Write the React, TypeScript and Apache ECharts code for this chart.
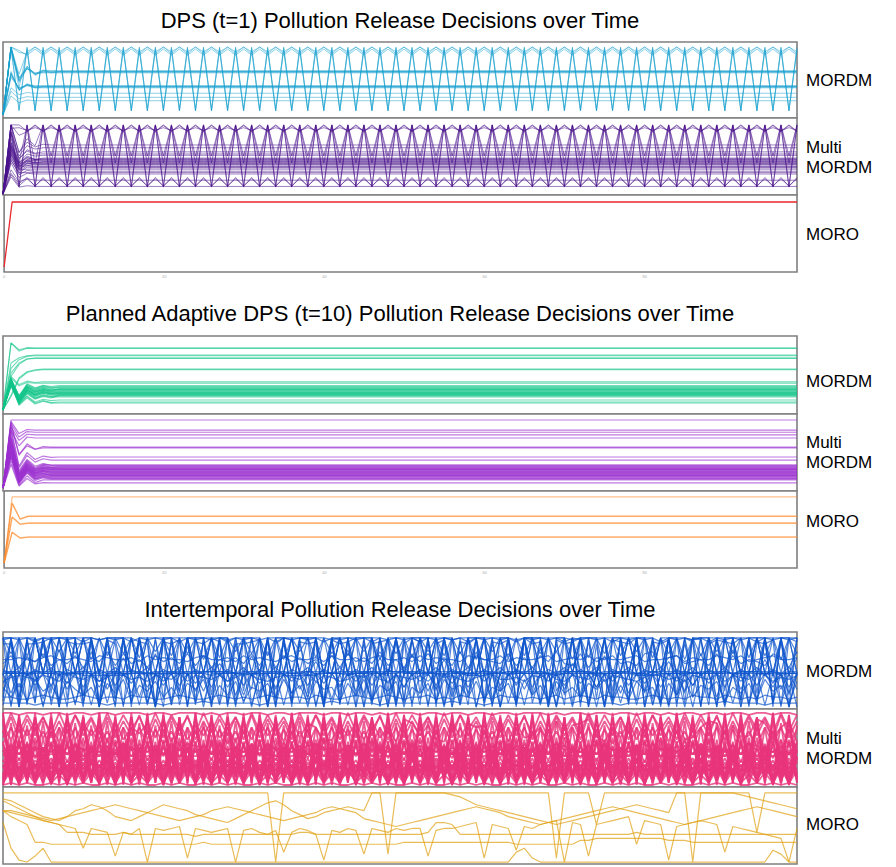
import React, { useEffect, useRef } from "react";
import * as echarts from "echarts";

// ---------- time axis ----------
const timeSteps: number[] = [...Array(100).keys()]; // t = 0..99

// ---------- panel layout ----------
const panelTops = [42, 118, 195, 336, 414, 491, 632, 709, 787];
const panelHeights = [76, 77, 77, 78, 77, 77, 77, 78, 77];
const panelYMin = [-4.4, -1.4, -7.7, -6, -4.4, -7.6, -1, -0.97, -1];
const panelYMax = [107.4, 110, 110.8, 110.4, 108.8, 109, 38, 36.9, 38];
const panelNames = ["MORDM", "Multi\nMORDM", "MORO"];
const labelCenters = [80, 157, 234, 381, 452, 521, 671, 748.5, 824];
const sectionTitles = [
  "DPS (t=1) Pollution Release Decisions over Time",
  "Planned Adaptive DPS (t=10) Pollution Release Decisions over Time",
  "Intertemporal Pollution Release Decisions over Time",
];
const titleCenters = [20, 313, 609];

// ---------- DPS (t=1): transient head + steady cycle ----------
const dpsMordmHeads = [
  [0], [0], [0, 100, 92], [0, 100, 95], [0, 100, 50, 70, 58, 66, 62],
  [0, 98, 52, 72, 60, 65], [0, 100, 48, 68, 60, 63], [0, 95, 55, 68, 62],
  [0, 100, 54, 71, 61, 66], [0, 60, 38, 45, 41], [0, 55, 40, 44],
  [0, 62, 36, 44, 40], [0, 58, 39, 43], [0, 64, 37, 46, 42], [0, 40, 30, 33],
  [0, 35, 24, 27], [0, 28, 18, 22], [0, 100, 40], [0, 100, 60],
  [0, 97, 51, 69, 60, 64], [0, 61, 37, 45, 41],
];
const dpsMordmCycles = [
  [6, 100], [8, 98], [100, 90], [97, 88], [64], [65], [63], [62], [64.5],
  [42], [43], [41], [40], [42.5], [32], [26], [21], [6, 95], [100, 93],
  [63.5], [41.5],
];

const dpsMultiHeads = [
  [0], [0, 90], [0], [0, 100], [0, 100, 85], [0, 95], [0, 30, 15], [0, 28],
  [0, 100, 60, 75, 68, 72], [0, 90, 55, 70, 65], [0, 85, 50, 64, 59],
  [0, 80, 45, 58, 55], [0, 75, 42, 55, 50], [0, 70, 40, 50], [0, 65, 38, 48],
  [0, 60, 36, 45], [0, 62, 35, 44], [0, 58, 33, 41], [0, 55, 30, 39],
  [0, 50, 28, 34], [0, 45, 24, 30], [0, 35, 18, 22], [0, 25, 10, 12],
  [0, 68, 41, 48, 45], [0, 72, 44, 52], [0, 66, 40, 47], [0, 100, 60, 80, 70],
  [0, 52, 35], [0, 48, 31], [0, 74, 46, 53, 50], [0, 69, 43, 49], [0, 63, 39, 45],
  [0, 57, 37, 42], [0, 88, 52, 62, 58],
];
const dpsMultiCycles = [
  [11, 100], [10, 98], [45, 100], [100, 91], [99, 90], [96, 92],
  [11, 24], [12, 22], [71], [67], [61], [56], [52], [49], [46], [44], [42],
  [40], [38], [33], [29], [20], [11], [47], [50], [45], [55, 100], [36], [31],
  [51], [48], [43], [39], [58],
];

const dpsMoroHeads = [[0]];
const dpsMoroCycles = [[100]];

// ---------- Planned adaptive DPS (t=10) ----------
const adaptMordmHeads = [
  [0, 100, 90, 93], [0, 100, 88, 92], [0, 70, 78, 81], [0, 62, 75, 80],
  [0, 55, 70, 76], [0, 50, 68, 76], [0, 22, 48, 57, 60], [0, 20, 46, 56, 59],
  [0, 50, 38, 43, 41], [0, 48, 36, 41], [0, 46, 14, 30, 22, 27, 24],
  [0, 44, 16, 32, 24, 29, 26], [0, 42, 12, 28, 20, 25, 22],
  [0, 40, 15, 34, 26, 31, 28], [0, 38, 13, 30, 22, 26],
  [0, 45, 17, 35, 28, 33, 30], [0, 43, 18, 36, 30, 34, 32],
  [0, 47, 20, 37, 31, 35, 33], [0, 41, 11, 27, 18, 23, 20],
  [0, 39, 10, 25, 17, 21, 19], [0, 44, 19, 38, 32, 36, 34],
  [0, 46, 21, 39, 33, 37, 35], [0, 36, 9, 24, 16, 20, 18],
  [0, 40, 8, 20, 10, 14, 11], [0, 38, 7, 18, 9, 13, 10],
  [0, 42, 9, 21, 12, 16, 14], [0, 35, 14, 29, 23, 27, 25],
  [0, 37, 12, 31, 25, 29, 27], [0, 45, 22, 34, 29, 32, 30],
  [0, 41, 16, 33, 27, 30, 28], [0, 43, 15, 31, 23, 28, 25],
  [0, 39, 13, 28, 21, 25, 23], [0, 47, 18, 35, 27, 31, 29],
  [0, 44, 11, 26, 18, 22, 20],
];
const adaptMordmCycles = [
  [92.5], [92], [82], [81], [77.6], [77], [61], [60], [42], [40], [25], [27],
  [23], [29], [24], [31], [33], [34], [21], [19.5], [35], [36.5], [22], [12],
  [10.5], [15], [26], [28], [30], [32], [26.5], [24.5], [30.5], [22.5],
];

const adaptMultiHeads = [
  [0, 100], [0, 98, 80, 86], [0, 95, 75, 83], [0, 90, 70, 79], [0, 85, 62, 75],
  [0, 96, 48, 65, 57, 61], [0, 92, 50, 62, 57], [0, 88, 32, 52, 42, 47, 45],
  [0, 84, 30, 48, 38, 43], [0, 80, 20, 40, 28, 34, 30], [0, 70, 18, 35, 25, 30],
  [0, 65, 15, 32, 22, 27], [0, 60, 12, 30, 20, 24], [0, 55, 10, 28, 18, 22],
  [0, 75, 22, 38, 28, 33], [0, 68, 16, 34, 24, 29], [0, 58, 14, 31, 21, 26],
  [0, 52, 9, 26, 15, 19], [0, 48, 8, 24, 13, 17], [0, 62, 20, 36, 27, 31],
  [0, 72, 24, 40, 30, 35], [0, 45, 6, 22, 11, 15], [0, 50, 10, 27, 17, 21],
  [0, 57, 13, 29, 19, 24], [0, 66, 19, 33, 23, 28], [0, 40, 4, 18, 8, 12],
  [0, 35, 3, 14, 6, 8], [0, 74, 26, 42, 32, 36], [0, 54, 12, 28, 18, 22],
  [0, 63, 17, 31, 22, 26], [0, 46, 7, 25, 14, 18], [0, 69, 21, 37, 26, 31],
  [0, 61, 16, 30, 21, 25], [0, 53, 11, 27, 16, 20], [0, 67, 18, 34, 25, 29],
  [0, 49, 9, 23, 13, 16],
];
const adaptMultiCycles = [
  [100], [85], [82], [78], [73.5], [60], [59], [45.6], [41], [31], [28], [25],
  [22], [20], [32], [27], [23], [17], [15], [30], [34], [13], [19], [21], [26],
  [12], [7.4], [33], [18], [24], [16], [29], [23.5], [18.5], [27.5], [14],
];

const adaptMoroHeads = [[0, 100], [0, 91, 67], [0, 90, 66], [0, 70, 59], [0, 69, 58.5], [0, 47, 38], [0, 46, 37.5]];
const adaptMoroCycles = [[100], [71], [70.5], [60.6], [60], [39.4], [39]];

// ---------- Intertemporal: one base-36 level (0..z) per time step ----------
const interMordmLines = [
  "zhzhzhzhzh zhzhyhzhzh zhzgzhzhyh zhzhzhzizh zhzhzhzhzh yhzhzhzhzg zhzhzhzhzh zhyhzhzhzh zhzhzhzgzh zhzhzhzhzh",
  "h1h2h1h0h1 h1h2h1h1h0 h1h1h2h1h1 h0h1h1h2h1 h1h1h0h1h1 h2h1h1h1h0 h1h2h1h1h1 h0h1h1h2h1 h1h1h0h1h1 h2h1h1h1h0",
  "5z2y8zh3zi 0zhz4yhzh2 zh8z1zhzz3 h9zh0zyh4z hz2zh5zi0z 3yhz8zh1zh z4hzyzh2z8 hz0zhy5zh3 z1hzh7zyh0 zh4zhz2zh9",
  "zzzzyzzzzz zzyzzzzhzz zzzzzzzzyz zzhzzzzzzz zyzzzzzzhz zzzzzzyzzz zzzzhzzzzz zyzzzzzzzz zhzzzzyzzz zzzzzzzzzz",
  "hhhhihhghh hhihhhhhgh hhhhhhihhh ghhhhhhhih hhhghhhhhh ihhhhghhhh hhhihhhhhg hhhhhhhihh hghhhhhhhh ihhhhhghhh",
  "2222122223 2221222222 1222232222 2212222222 2322222122 2222223222 1222222222 2232222122 2222222222 3222212222",
  "a5c3e8b4d9 6a2c7e3b8d 5a4c9e2b6d 3a8c5e7b2d 9a3c6e4b8d 2a7c3e9b5d 4a8c2e6b3d 7a5c9e3b4d 8a2c6e5b9d 3a7c4e8b2d",
  "mqkpnrlomq kpnslrmokq npmrlqkonp mrlskqnpmo lqkrnpmslo kqnrmplskq onmrlpkqns mlrkpoqmnl rskpqmnolr kqmonlrpks",
  "z0z1zhz0zz 2z0h1z0z2h z1z0zhz2z0 z1hz0z2zz0 hz1z0z2hz1 z0zhz1z2z0 hz0z1zz2h0 z1z0hz2z1z 0hz1z2z0zh 1z0z2zhz0z",
  "hihghzhigh hzhgihzhhi ghhzihghhz ihghihzhgh ihzghihhgz hihgzhihgh zhighhzihg hzihghhizh gihzhgihhz ihghzhighh",
  "8h5hbh3h9h 6hah4h7h2h bh5h8h3hah 6h4h9h7h5h 2hbh8h3h6h ah4h9h5h7h 3h8hbh6h2h 9h5hah4h7h 8h3h6hbh5h 2h9h4hah7h",
  "zrzqzpzszr zozqzrzpzs zqzrzozpzs zrzqzozszp zrzqzszozr zpzszqzrzo zszpzqzrzs zozpzrzqzs zpzrzozqzs zrzpzqzozr",
  "h7hqh4hth2 hsh9hph5hr h3hvh8hmh6 hqh2hwh9hn h4hth7hph3 hrh8hoh5hs h2hph9huh6 hmh3hqh7hw h4hnh8hrh5 hth2hoh9hp",
  "ww0wwxz0xw wx0yw0zxw0 xwy0xwzx0w wxy0wz0xwx 0ywxz0wxy0 wzx0wy0xwz 0xwy0zwx0y wxz0w0yxwz 0xwy0zx0wy xwz0xwy0zx",
  "dfgfegfdhf egdfhgefdg fehdgfegdf hgedfgfehd gfdegfhedg fegdhfgedf gheefdgfhe dgfehdgfed fhgefdgfeh dgfehgdfeg",
  "1h0h2z1h0z 2h1h0z2h1h 0z1h2h0z1h 2h0z1h2h0h 1z2h0h1z2h 0h1z2h0h1z 2h0h1z2h0h 1z2h0h1h2z 0h1z2h0h1z 2h0h1z2h0h",
  "ooponpqoop onqpoopnqo poonpqoopn qoponpqoop nqoopnpqoo pnqopoonqp ooqnpoopqn opoqnpoopq noopqnpooq poqnopqoop",
  "5544565445 6545546554 4565445654 5456545546 5445654565 4556454654 5465545456 4565465544 5654546554 6545465545",
  "hzhhzhhzhh zhhzhhhzhh zhhzhhzhhh zhhzhhzhhz hhzhhhzhhz hhzhhzhhhz hhzhhzhhzh hhzhhzhhzh hzhhhzhhzh hzhhzhhzhh",
  "ihhih0hihh ih0hihhih0 hihhi0hhih hih0hihhih 0hhihhih0h ihhih0hihh ih0hihhih0 hihhi0hhih hih0hihhih 0hhihhih0h",
  "iiihiiiihi iihiiiiihi iiiihiiiih iiiiiihiii ihiiiiihii iiihiiiihi iihiiiiihi iiiihiiiih iiiiiihiii ihiiiiihii",
  "zz0zzhzzzh zz0zzzhzz0 zzhzzz0zzh zzz0zzhzzz 0zzhzzz0zz hzzz0zzhzz z0zzhzzz0z zhzzz0zzhz zz0zzhzzz0 zzhzzz0zzh",
  "gxgygwgzgx gygwgzgxgy gwgzgxgygw gzgxgygwgz gxgygwgzgx gygwgzgxgy gwgzgxgygw gzgxgygwgz gxgygwgzgx gygwgzgxgy",
  "jhkgjhkgjh kgjhkgjhkg jhkgjhkgjh kgjhkgjhkg jhkgjhkgjh kgjhkgjhkg jhkgjhkgjh kgjhkgjhkg jhkgjhkgjh kgjhkgjhkg",
  "3z5z2z7z4z 6z3z8z2z5z 4z7z3z6z2z 8z5z4z3z7z 2z6z5z4z8z 3z7z2z6z5z 4z8z3z7z2z 6z5z4z8z3z 7z2z6z5z4z 8z3z7z2z6z",
  "yzyzxzyzyz xzyzyzxzyz yzxzyzyzxz yzyzxzyzyz xzyzyzxzyz yzxzyzyzxz yzyzxzyzyz xzyzyzxzyz yzxzyzyzxz yzyzxzyzyz",
  "hhhhhhhhhh gggggghhhh hhhiiiiiih hhhhhggggg hhhhhhiiii hhhhhhhhgg ghhhhhhhhh iiiihhhhhg ggghhhhhhh hhiiihhhhh",
  "chahdhbhch ahdhbhchah dhbhchahdh bhchahdhbh chahdhbhch ahdhbhchah dhbhchahdh bhchahdhbh chahdhbhch ahdhbhchah",
];

const interMultiLines = [
  "z0y1x2z0y3 x1z2y0x3z1 y2x0z3y1x2 z0y3x1z2y0 x3z1y2x0z3 y1x2z0y3x1 z2y0x3z1y2 x0z3y1x2z0 y3x1z2y0x3 z1y2x0z3y1",
  "zzyzzyzzyz zyzzyzzzyz zyzzzyzyzz yzzyzzyzzz yzzyzzyzyz zzyzzyzzyz zyzzyzzzyz yzzyzzyzzy zzyzyzzyzz yzzyzzyzzy",
  "0101001010 1001010100 1010010101 0010100101 0100101010 0101001010 1001010100 1010010101 0010100101 0100101010",
  "h4m2k6j3l5 i1n4h7k2m5 j3l6i2n5h4 k7m1j4l3i6 n2h5k4m7j1 l5i3n6h2k4 m5j7l1i4n3 h6k2m5j4l7 i1n3h5k6m2 j4l5i7n1h3",
  "5a3c8b2d6a 4c9b1d7a5c 3b8d2a6c4b 9d1a7c5b3d 8a2c6b4d9a 1c7b5d3a8c 2b6d4a9c1b 7d5a3c8b2d 6a4c9b1d7a 5c3b8d2a6c",
  "qgrfsgqhrf sgqfrhsgqf rgshqfrgsh qfrgshqgrf shqgrfsgqh rfsgqfrhsg qfrgshqfrg shqfrgshqg rfshqgrfsg qfrgshqfrg",
  "8i7j9h8i7j 9h8i7j9h8i 7j9h8i7j9h 8i7j9h8i7j 9h8i7j9h8i 7j9h8i7j9h 8i7j9h8i7j 9h8i7j9h8i 7j9h8i7j9h 8i7j9h8i7j",
  "3e2f4d3e1g 5c2f4e3d2g 1f4c3e2d5f 2e4g1d3f2c 4e2d5f3c1e 3g2d4f1c5e 2d3f4c2e1g 4d3e2f5c3d 1f2e4g3d2c 5e1f3d4c2e",
  "tmuovnslwm uotlvmspun wlumtovnsl umvotlwnus lmtoumvnsl wuotmlvnus tmwlunoslv mtuwolsnvm uotlwmnsvu ltmowunsvl",
  "bkcjdialbk cjemdlbkci ejdlakcmbj dkeiclbjdm akcjeibldk cmejbidlak cjdmbkeicl ajdkbmciej bldkcmaidj ekblcjdmai",
  "2g1h3f2i1g 3h2f1i3g2h 1f3i2g1h3f 2i1g3h2f1i 3g2h1f3i2g 1h3f2i1g3h 2f1i3g2h1f 3i2g1h3f2i 1g3h2f1i3g 2h1f3i2g1h",
  "nxmwoxnvmy owmxnvoymw nxoymvnwox mynwovmxny owmvnxoymw nvoxmwnyov mxnwoymvnx owmynvoxmw nyovmxnwoy mvnxowmynv",
  "0e0d1f0c0e 1d0f0e1c0d 0f1e0d0c1f 0e0d1f0c0e 1d0f0e1c0d 0f1e0d0c1f 0e0d1f0c0e 1d0f0e1c0d 0f1e0d0c1f 0e0d1f0c0e",
  "9798a89797 8a97989a79 8978a79897 9a89789798 a897978a98 79789a9789 7989a79878 9a79879a89 7897a98979 8a79897a98",
  "gjfkhigjfk higjfkhigj fkhigjfkhi gjfkhigjfk higjfkhigj fkhigjfkhi gjfkhigjfk higjfkhigj fkhigjfkhi gjfkhigjfk",
  "z5y7z4x6z5 y4z7x5z6y4 z5x7z4y6z5 x4z7y5z6x4 z5y7z4x6z5 y4z7x5z6y4 z5x7z4y6z5 x4z7y5z6x4 z5y7z4x6z5 y4z7x5z6y4",
  "3m4l2n3k4m 2l3n4k2m3l 4n2k3m4l2n 3k4m2l3n4k 2m3l4n2k3m 4l2n3k4m2l 3n4k2m3l4n 2k3m4l2n3k 4m2l3n4k2m 3l4n2k3m4l",
  "c6d5c7d4c6 d5c7d6c4d5 c6d7c5d4c6 d5c7d6c4d5 c6d7c5d4c6 d5c7d6c4d5 c6d7c5d4c6 d5c7d6c4d5 c6d7c5d4c6 d5c7d6c4d5",
  "rajbsaqcrb tasbqdrasc qbtarcsbqa rdtbsaqcrb tasdqbrasc qbtarcsdqa rbtasbqcra tdsbqarcsb qatdrbsaqc rbtasdqbra",
  "4u3t5v4s3u 5t4v3s5u4t 3v5s4u3t5v 4s3u5t4v3s 5u4t3v5s4u 3t5v4s3u5t 4v3s5u4t3v 5s4u3t5v4s 3u5t4v3s5u 4t3v5s4u3t",
  "ihjgihkgij hgjihkigjh ighkjigjhi gkhjigihjk ighjikgjih gijhkgihjg ikhgjihkgi jhgikjhgij khigjhkigj hgikjhgijk",
  "1716181517 1618171516 1817161518 1715161817 1618151716 1817151618 1716181517 1618171516 1817161518 1715161817",
  "wawbxcwavb xcwdvaxbwc vdwaxbvcwd xavbwcxdva wbxcvdwaxb vcwdxavbwc xdvawbxcvd waxbvcwdxa vbwcxdvawb xcvdwaxbvc",
  "k0l1j0k2l0 j1k0l2j0k1 l0j2k0l1j0 k2l0j1k0l2 j0k1l0j2k0 l1j0k2l0j1 k0l2j0k1l0 j2k0l1j0k2 l0j1k0l2j0 k1l0j2k0l1",
  "5h6g4i5h7g 4i6h5g7i4h 6g5i7h4g6i 5h7g4i6h5g 7i4h6g5i7h 4g6i5h7g4i 6h5g7i4h6g 5i7h4g6i5h 7g4i6h5g7i 4h6g5i7h4g",
  "a2b3a1b4a2 b3a1b4a2b3 a1b4a2b3a1 b4a2b3a1b4 a2b3a1b4a2 b3a1b4a2b3 a1b4a2b3a1 b4a2b3a1b4 a2b3a1b4a2 b3a1b4a2b3",
  "ejfkeigjfk eigjfkeigj fkeigjfkei gjfkeigjfk eigjfkeigj fkeigjfkei gjfkeigjfk eigjfkeigj fkeigjfkei gjfkeigjfk",
  "1c0d2b1c0d 2b1c0d2b1c 0d2b1c0d2b 1c0d2b1c0d 2b1c0d2b1c 0d2b1c0d2b 1c0d2b1c0d 2b1c0d2b1c 0d2b1c0d2b 1c0d2b1c0d",
  "l6m5n7l4m6 n5l7m4n6l5 m7n4l6m5n7 l4m6n5l7m4 n6l5m7n4l6 m5n7l4m6n5 l7m4n6l5m7 n4l6m5n7l4 m6n5l7m4n6 l5m7n4l6m5",
  "pzqyrxpzqy rxpzqyrxpz qyrxpzqyrx pzqyrxpzqy rxpzqyrxpz qyrxpzqyrx pzqyrxpzqy rxpzqyrxpz qyrxpzqyrx pzqyrxpzqy",
  "2828282828 3737373737 2929292929 3838383838 2727272727 3939393939 2828282828 3737373737 2929292929 3838383838",
  "fffeeefffe eeefffeeef ffeeefffee efffeeefff eeefffeeef ffeeefffee efffeeefff eeefffeeef ffeeefffee efffeeefff",
  "ksjrkqjsks jrkqjsksjr kqjsksjrkq jsksjrkqjs ksjrkqjsks jrkqjsksjr kqjsksjrkq jsksjrkqjs ksjrkqjsks jrkqjsksjr",
  "0g1h0i1g0h 1i0g1h0i1g 0h1i0g1h0i 1g0h1i0g1h 0i1g0h1i0g 1h0i1g0h1i 0g1h0i1g0h 1i0g1h0i1g 0h1i0g1h0i 1g0h1i0g1h",
  "9c8d9b8c9d 8b9c8d9b8c 9d8b9c8d9b 8c9d8b9c8d 9b8c9d8b9c 8d9b8c9d8b 9c8d9b8c9d 8b9c8d9b8c 9d8b9c8d9b 8c9d8b9c8d",
  "v3w2x4v1w3 x2v4w1x3v2 w4x1v3w2x4 v1w3x2v4w1 x3v2w4x1v3 w2x4v1w3x2 v4w1x3v2w4 x1v3w2x4v1 w3x2v4w1x3 v2w4x1v3w2",
];

const interMoroLines = [
  "zzzzzzzzzz zzzzzzzzzz zzzzzzzzzz zzzz0zzzzz zzzzzzzz4z zzzzzzzzzz zzzzzzzzz2 zzzzjzzzzz zzzzzz0zzz zzzzfzzzzz",
  "wvtrpnmlnq rtsqnmlnpr tsrqonmlkm oqsuvtqomn pqrsrqzzzz zzzzzzyxvt srqponmlkj klmnopqrst srqpzzzzzz zzyxwvutsr",
  "vtrpnlkjff feeeefeeee eeeedeeeee eeeeeeeffe eeeeeeeeee eeefkkjeee eeeeeeeeee eeeeeeeeef eeeeeeeeee eeeeeeeeee",
  "qnljaa9999 9999999999 99999a9999 9999999999 9999999999 aaaaaaaaaa aaaa999999 99bbcccccc cccbbbaaaa aaaaaaaaaa",
  "qponmlkjih 7hgf3feh0h ghi2hgfgh0 ghfeg5fhge 1gfhg4hgfh ghh3ghhijk 2jih6ihjkl 0kj3jklmn9 lkj1ijklkj 5ihgfedc0h",
  "k710370000 0000000000 0000000000 0000000000 0000000000 0000000000 0000572000 0000000000 0000000000 0000006400",
  "qqponmlmno pqrstsrqpo nmlmnoqrsr qponmlmnop rsrqpmlkji jklmnopqrs rqpnmlkjkl mnopqrsrqp onmlkjklmn opqrsrqpon",
];

// ---------- colours ----------
const panelColors = ["#1aa2cf", "#4a148c", "#e8282c", "#10c488", "#9b30d0", "#ff8a2b", "#0f55cc", "#e8347c", "#e0a010"];
const panelOpacity = [0.5, 0.55, 1, 0.6, 0.65, 0.55, 0.7, 0.8, 0.7];
const panelWidths = [1, 1, 1.3, 1.1, 1.2, 1.2, 1.2, 1.8, 1.2];

function dpsLines(heads: number[][], cycles: number[][]) {
  return heads.map((head, k) =>
    timeSteps.map((t) => [t, t < head.length ? head[t] : cycles[k][t % cycles[k].length]])
  );
}
function levelLines(strs: string[]) {
  return strs.map((s) =>
    s.replace(/\s+/g, "").split("").slice(0, timeSteps.length).map((c, t) => [timeSteps[t], parseInt(c, 36)])
  );
}

const FONT = "'Liberation Sans', Arial, Helvetica, sans-serif";

export default function App() {
  const ref = useRef<HTMLDivElement>(null);
  useEffect(() => {
    if (!ref.current) return;
    const chart = echarts.init(ref.current, undefined, { renderer: "svg" });
    const panelData = [
      dpsLines(dpsMordmHeads, dpsMordmCycles),
      dpsLines(dpsMultiHeads, dpsMultiCycles),
      dpsLines(dpsMoroHeads, dpsMoroCycles),
      dpsLines(adaptMordmHeads, adaptMordmCycles),
      dpsLines(adaptMultiHeads, adaptMultiCycles),
      dpsLines(adaptMoroHeads, adaptMoroCycles),
      levelLines(interMordmLines),
      levelLines(interMultiLines),
      levelLines(interMoroLines),
    ];
    const grids = panelTops.map((top, i) => ({
      left: 3,
      width: 794,
      top,
      height: panelHeights[i],
      show: true,
      borderColor: "#7f7f7f",
      borderWidth: 1.6,
      backgroundColor: "#fff",
      containLabel: false,
    }));
    const xAxes = panelTops.map((_, i) => ({
      type: "value",
      gridIndex: i,
      min: 0,
      max: 99,
      interval: 20,
      axisLine: { show: false },
      axisTick: { show: false },
      splitLine: { show: false },
      axisLabel: {
        show: i === 2 || i === 5,
        fontSize: 4,
        color: "#aaaaaa",
        margin: 2,
        showMaxLabel: false,
      },
    }));
    const yAxes = panelTops.map((_, i) => ({
      type: "value",
      gridIndex: i,
      min: panelYMin[i],
      max: panelYMax[i],
      show: false,
      splitLine: { show: false },
    }));
    const series: any[] = [];
    panelData.forEach((lines, i) => {
      lines.forEach((data) => {
        series.push({
          type: "line",
          xAxisIndex: i,
          yAxisIndex: i,
          data,
          symbol: "none",
          showSymbol: false,
          silent: true,
          lineStyle: {
            color: panelColors[i],
            width: panelWidths[i],
            opacity: panelOpacity[i],
          },
        });
      });
    });
    const graphics: any[] = [];
    sectionTitles.forEach((text, s) => {
      graphics.push({
        type: "text",
        x: 400,
        y: titleCenters[s],
        style: {
          text,
          fill: "#000",
          fontSize: 22,
          fontFamily: FONT,
          textAlign: "center",
          textVerticalAlign: "middle",
        },
      });
    });
    panelTops.forEach((_, i) => {
      graphics.push({
        type: "text",
        x: 806,
        y: labelCenters[i],
        style: {
          text: panelNames[i % 3],
          fill: "#000",
          fontSize: 17,
          lineHeight: 20,
          fontFamily: FONT,
          textAlign: "left",
          textVerticalAlign: "middle",
        },
      });
    });
    chart.setOption({
      animation: false,
      backgroundColor: "#fff",
      grid: grids,
      xAxis: xAxes,
      yAxis: yAxes,
      series,
      graphic: graphics,
    });
    return () => chart.dispose();
  }, []);
  return (
    <div
      ref={ref}
      style={{ position: "absolute", left: 0, top: 0, width: 896, height: 867 }}
    />
  );
}
